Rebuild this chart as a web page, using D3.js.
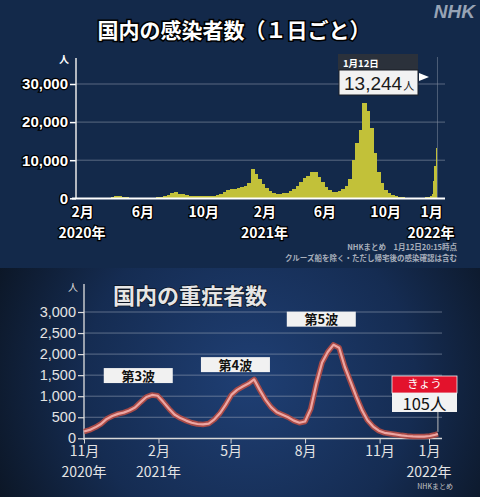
<!DOCTYPE html>
<html>
<head>
<meta charset="utf-8">
<title>国内の感染者数・重症者数</title>
<script src="https://d3js.org/d3.v7.min.js"></script>
<style>
body { margin: 0; background: #13294a; }
svg { display: block; }
</style>
</head>
<body>
<svg id="chart" width="480" height="497"></svg>
<script>
// ---- data: daily new cases (weekly envelope, then daily for the last days)
const caseWeekStart = "2020-01-13";
const caseWeekly = [
  2, 3, 5, 5, 10, 18, 20, 35, 45, 45, 120, 300, 550, 600, 450, 250, 120, 50, 30, 35,
  45, 50, 55, 100, 220, 350, 600, 900, 1300, 1550, 1250, 1050, 850, 650, 580, 550, 500, 560,
  600, 620, 650, 750, 1000, 1600, 2200, 2400, 2500, 2700, 3000, 3300, 4000,
  7600, 6500, 5000, 3800, 2700, 1800, 1400, 1200, 1200, 1300, 1500, 1800, 2500, 3200,
  4300, 5300, 5800, 7000, 6800, 5600, 4200, 2900, 2200, 1700, 1700, 1900, 2400, 3300,
  5000, 10000, 14500, 18000, 25000, 23000, 18500, 12000, 7000, 4000, 2200, 1300, 850,
  500, 330, 250, 200, 170, 130, 130, 150, 180, 250
];
const caseDayStart = "2021-12-27";
const caseDaily = [300, 400, 500, 450, 400, 550, 550, 800, 1200, 2640, 4470, 6210, 8480, 8250, 6440, 5970, 13244];
const caseTicks = [0, 10000, 20000, 30000];
const caseMonths = ["2020-02-01", "2020-06-01", "2020-10-01", "2021-02-01", "2021-06-01", "2021-10-01", "2022-01-01"];
const caseYears = [["2020-02-01", "2020年"], ["2021-02-01", "2021年"], ["2022-01-01", "2022年"]];

// ---- data: severe cases
const severeDates = [
  "2020-11-01", "2020-11-08", "2020-11-15", "2020-11-22", "2020-11-29", "2020-12-06", "2020-12-13",
  "2020-12-20", "2020-12-27", "2021-01-03", "2021-01-10", "2021-01-17", "2021-01-24", "2021-01-31",
  "2021-02-07", "2021-02-14", "2021-02-21", "2021-02-28", "2021-03-07", "2021-03-14", "2021-03-21",
  "2021-03-28", "2021-04-04", "2021-04-11", "2021-04-18", "2021-04-25", "2021-05-02", "2021-05-09",
  "2021-05-16", "2021-05-23", "2021-05-30", "2021-06-06", "2021-06-13", "2021-06-20", "2021-06-27",
  "2021-07-04", "2021-07-11", "2021-07-18", "2021-07-25", "2021-08-01", "2021-08-08", "2021-08-15",
  "2021-08-22", "2021-08-29", "2021-09-05", "2021-09-12", "2021-09-19", "2021-09-26", "2021-10-03",
  "2021-10-10", "2021-10-17", "2021-10-24", "2021-10-31", "2021-11-07", "2021-11-14", "2021-11-21",
  "2021-11-28", "2021-12-05", "2021-12-12", "2021-12-19", "2021-12-26", "2022-01-02", "2022-01-09",
  "2022-01-12"
];
const severeValues = [
  160, 200, 260, 340, 460, 530, 580, 610, 660, 730, 860, 980, 1030, 1010,
  860, 700, 560, 480, 420, 370, 340, 330, 350, 450, 600, 800, 1030, 1150,
  1230, 1300, 1400, 1150, 920, 740, 620, 560, 500, 420, 370, 400, 700, 1300,
  1800, 2050, 2220, 2150, 1700, 1350, 1000, 680, 430, 280, 180, 130, 110, 90,
  70, 55, 45, 40, 42, 55, 85, 105
];
const severeTicks = [0, 500, 1000, 1500, 2000, 2500, 3000];
const severeMonths = ["2020-11-01", "2021-02-01", "2021-05-01", "2021-08-01", "2021-11-01", "2022-01-01"];
const severeYears = [["2020-11-01", "2020年"], ["2021-02-01", "2021年"], ["2022-01-01", "2022年"]];
const waves = [["第3波", "2021-01-07", 1490], ["第4波", "2021-05-07", 1750], ["第5波", "2021-08-21", 2830]];

const parse = d3.timeParse("%Y-%m-%d");
const svg = d3.select("#chart");
const JP = "'Noto Sans CJK JP', sans-serif";
const NUM = "'Liberation Sans', 'Noto Sans CJK JP', sans-serif";

// ---------- backgrounds
const defs = svg.append("defs");
const grad = defs.append("radialGradient").attr("id", "bg2")
  .attr("gradientUnits", "userSpaceOnUse").attr("cx", 250).attr("cy", 380).attr("r", 300);
grad.append("stop").attr("offset", "0%").attr("stop-color", "#1f3f74");
grad.append("stop").attr("offset", "55%").attr("stop-color", "#152c52");
grad.append("stop").attr("offset", "100%").attr("stop-color", "#0a121d");

svg.append("rect").attr("x", 0).attr("y", 0).attr("width", 480).attr("height", 268).attr("fill", "#13294a");
svg.append("rect").attr("x", 0).attr("y", 268).attr("width", 480).attr("height", 229).attr("fill", "url(#bg2)");

// ---------- top chart
const topG = svg.append("g");
topG.append("text").attr("x", 475).attr("y", 18).attr("text-anchor", "end")
  .attr("font-family", NUM).attr("font-weight", "bold").attr("font-style", "italic")
  .attr("font-size", 19).attr("fill", "#97a3b5").text("NHK");

topG.append("text").attr("x", 234).attr("y", 38).attr("text-anchor", "middle")
  .attr("font-family", JP).attr("font-weight", "bold").attr("font-size", 21)
  .attr("fill", "#fff").attr("stroke", "#000").attr("stroke-width", 3)
  .attr("paint-order", "stroke").text("国内の感染者数（１日ごと）");

const x1 = d3.scaleTime().domain([parse("2020-02-01"), parse("2022-01-01")]).range([82, 431]);
const y1 = d3.scaleLinear().domain([0, 30000]).range([198.3, 84]);

// gridlines
topG.append("g").selectAll("line").data(caseTicks.filter(d => d > 0)).join("line")
  .attr("x1", 76).attr("x2", 445).attr("y1", d => y1(d)).attr("y2", d => y1(d))
  .attr("stroke", "#8894a6").attr("stroke-opacity", 0.6).attr("stroke-width", 1);

// bars
const caseBars = [];
const w0 = parse(caseWeekStart);
caseWeekly.forEach((v, i) => caseBars.push({ d0: d3.timeDay.offset(w0, 7 * i), d1: d3.timeDay.offset(w0, 7 * i + 7), v }));
const d0 = parse(caseDayStart);
caseDaily.forEach((v, i) => caseBars.push({ d0: d3.timeDay.offset(d0, i), d1: d3.timeDay.offset(d0, i + 1), v }));
topG.append("g").attr("shape-rendering", "crispEdges").selectAll("rect").data(caseBars).join("rect")
  .attr("x", d => x1(d.d0)).attr("width", (d, i) => x1(d.d1) - x1(d.d0) + (i < caseBars.length - 1 ? 1 : 0))
  .attr("y", d => y1(d.v)).attr("height", d => y1(0) - y1(d.v))
  .attr("fill", "#c2c139");

// today marker line
const today = parse("2022-01-12");
topG.append("line").attr("x1", x1(today) + 1).attr("x2", x1(today) + 1).attr("y1", 57).attr("y2", 198)
  .attr("stroke", "#8894a6").attr("stroke-opacity", 0.5);

// y axis
const yAx1 = topG.append("g").attr("transform", "translate(76,0)")
  .call(d3.axisLeft(y1).tickValues(caseTicks).tickFormat(d3.format(",")).tickSize(6).tickPadding(2));
yAx1.select(".domain").remove();
yAx1.selectAll("line").attr("stroke", "#fff").attr("stroke-width", 1.5);
yAx1.selectAll("text").attr("font-family", NUM).attr("font-weight", "bold").attr("font-size", 15)
  .attr("fill", "#fff").attr("stroke", "#000").attr("stroke-width", 2.5).attr("paint-order", "stroke");
topG.append("line").attr("x1", 76).attr("x2", 76).attr("y1", 58).attr("y2", 199)
  .attr("stroke", "#e8e8e8").attr("stroke-width", 1.5);
topG.append("line").attr("x1", 72).attr("x2", 445).attr("y1", 198.5).attr("y2", 198.5)
  .attr("stroke", "#fff").attr("stroke-width", 2);
topG.append("text").attr("x", 64).attr("y", 63).attr("text-anchor", "middle")
  .attr("font-family", JP).attr("font-weight", "bold").attr("font-size", 10).attr("fill", "#fff").text("人");

// x axis
const xAx1 = topG.append("g").attr("transform", "translate(0,199)")
  .call(d3.axisBottom(x1).tickValues(caseMonths.map(parse)).tickFormat(d => (d.getMonth() + 1) + "月").tickSize(0).tickPadding(8));
xAx1.select(".domain").remove();
xAx1.selectAll("text").attr("font-family", JP).attr("font-weight", "bold").attr("font-size", 14)
  .attr("fill", "#fff").attr("stroke", "#000").attr("stroke-width", 2.5).attr("paint-order", "stroke");
topG.append("g").selectAll("text").data(caseYears).join("text")
  .attr("x", d => x1(parse(d[0]))).attr("y", 237.5).attr("text-anchor", "middle")
  .attr("font-family", JP).attr("font-weight", "bold").attr("font-size", 14)
  .attr("fill", "#fff").attr("stroke", "#000").attr("stroke-width", 2.5).attr("paint-order", "stroke")
  .text(d => d[1]);

// notes
topG.append("text").attr("x", 457).attr("y", 250).attr("text-anchor", "end")
  .attr("font-family", JP).attr("font-weight", "bold").attr("font-size", 7.5).attr("fill", "#a9b0bc")
  .text("NHKまとめ　1月12日20:15時点");
topG.append("text").attr("x", 457).attr("y", 260.5).attr("text-anchor", "end")
  .attr("font-family", JP).attr("font-weight", "bold").attr("font-size", 7.5).attr("fill", "#a9b0bc")
  .text("クルーズ船を除く・ただし帰宅後の感染確認は含む");

// callout
topG.append("rect").attr("x", 338).attr("y", 54).attr("width", 80).attr("height", 17).attr("fill", "#2b313b");
topG.append("text").attr("x", 343).attr("y", 66.5).attr("font-family", JP).attr("font-weight", "bold")
  .attr("font-size", 9.5).attr("fill", "#fff").text("1月12日");
topG.append("rect").attr("x", 339).attr("y", 70).attr("width", 79).attr("height", 25).attr("fill", "#f2f2f2")
  .attr("stroke", "#1a1f26").attr("stroke-width", 1);
const cv = topG.append("text").attr("x", 344).attr("y", 89.5).attr("font-family", NUM).attr("fill", "#1a1a1a");
cv.append("tspan").attr("font-size", 19).text("13,244");
cv.append("tspan").attr("font-size", 11).attr("font-family", JP).attr("dx", 1).text("人");
topG.append("path").attr("d", "M419,73 L429,77 L419,81 Z").attr("fill", "#fff");

// ---------- bottom chart
const bot = svg.append("g");
const x2 = d3.scaleTime().domain([parse("2020-11-01"), parse("2022-01-01")]).range([84, 429]);
const y2 = d3.scaleLinear().domain([0, 3000]).range([438.3, 312]);

bot.append("text").attr("x", 113).attr("y", 304).attr("font-family", JP).attr("font-weight", "bold")
  .attr("font-size", 22).attr("fill", "#e6e6e6").attr("stroke", "#0b1320").attr("stroke-width", 1.5)
  .attr("paint-order", "stroke").text("国内の重症者数");
bot.append("text").attr("x", 73).attr("y", 291).attr("text-anchor", "middle")
  .attr("font-family", JP).attr("font-size", 10).attr("fill", "#ddd").text("人");

bot.append("g").selectAll("line").data(severeTicks.filter(d => d > 0)).join("line")
  .attr("x1", 84).attr("x2", 442).attr("y1", d => y2(d)).attr("y2", d => y2(d))
  .attr("stroke", "#9aa6b8").attr("stroke-opacity", 0.55).attr("stroke-width", 1);

const yAx2 = bot.append("g").attr("transform", "translate(84,0)")
  .call(d3.axisLeft(y2).tickValues(severeTicks).tickFormat(d3.format(",")).tickSize(6).tickPadding(2));
yAx2.select(".domain").remove();
yAx2.selectAll("line").attr("stroke", "#ddd").attr("stroke-width", 1.2);
yAx2.selectAll("text").attr("font-family", NUM).attr("font-size", 14.5).attr("fill", "#e4e4e4")
  .attr("dy", "0.28em");
bot.append("line").attr("x1", 84).attr("x2", 84).attr("y1", 284).attr("y2", 440)
  .attr("stroke", "#e0e0e0").attr("stroke-width", 1.3);

const xAx2 = bot.append("g").attr("transform", "translate(0,438.5)")
  .call(d3.axisBottom(x2).tickValues(severeMonths.map(parse)).tickFormat(d => (d.getMonth() + 1) + "月").tickSize(5).tickPadding(3));
xAx2.select(".domain").attr("stroke", "#d8d8d8").attr("stroke-width", 1.3).attr("d", "M84,0H442");
xAx2.selectAll("line").attr("stroke", "#d8d8d8");
xAx2.selectAll("text").attr("font-family", JP).attr("font-size", 14).attr("fill", "#e4e4e4");
bot.append("g").selectAll("text").data(severeYears).join("text")
  .attr("x", d => x2(parse(d[0]))).attr("y", 476.5).attr("text-anchor", "middle")
  .attr("font-family", JP).attr("font-size", 14).attr("fill", "#e4e4e4").text(d => d[1]);
bot.append("text").attr("x", 453).attr("y", 489).attr("text-anchor", "end")
  .attr("font-family", JP).attr("font-size", 7).attr("fill", "#c8c8c8").text("NHKまとめ");

// line
const sev = severeDates.map((d, i) => ({ d: parse(d), v: severeValues[i] }));
const line = d3.line().x(d => x2(d.d)).y(d => y2(d.v));
bot.append("path").datum(sev).attr("d", line).attr("fill", "none")
  .attr("stroke", "#a84a47").attr("stroke-width", 5.5).attr("stroke-linejoin", "round");
bot.append("path").datum(sev).attr("d", line).attr("fill", "none")
  .attr("stroke", "#eda6a3").attr("stroke-width", 2.2).attr("stroke-linejoin", "round");

// wave labels
const wg = bot.append("g").selectAll("g").data(waves).join("g")
  .attr("transform", d => `translate(${x2(parse(d[1]))},${y2(d[2])})`);
wg.append("rect").attr("x", -34.5).attr("y", -7.5).attr("width", 69).attr("height", 15).attr("fill", "#f1f1f1");
wg.append("text").attr("y", 5).attr("text-anchor", "middle").attr("font-family", JP)
  .attr("font-weight", "bold").attr("font-size", 13).attr("fill", "#111").text(d => d[0]);

// today callout
const tx = x2(today);
bot.append("line").attr("x1", tx).attr("x2", tx).attr("y1", 412).attr("y2", y2(105) - 2)
  .attr("stroke", "#bbb").attr("stroke-width", 1);
bot.append("rect").attr("x", 392).attr("y", 376).attr("width", 65).attr("height", 17).attr("fill", "#e3122c")
  .attr("stroke", "#f0f0f0").attr("stroke-width", 0.8);
bot.append("text").attr("x", 424.5).attr("y", 387.5).attr("text-anchor", "middle").attr("font-family", JP)
  .attr("font-size", 11.5).attr("fill", "#fff").text("きょう");
bot.append("rect").attr("x", 392).attr("y", 393).attr("width", 65).attr("height", 19).attr("fill", "#f2f2f2");
bot.append("text").attr("x", 424.5).attr("y", 410).attr("text-anchor", "middle").attr("font-family", JP)
  .attr("font-size", 16.5).attr("fill", "#111").text("105人");
</script>
</body>
</html>
